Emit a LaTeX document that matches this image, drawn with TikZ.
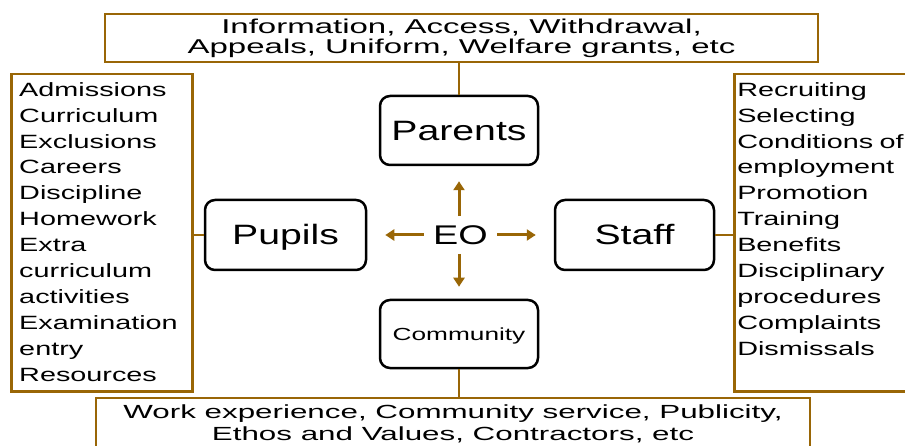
\documentclass[tikz,border=0pt]{standalone}
\usepackage{fontspec}
\setmainfont{Liberation Sans}[FakeStretch=1.5]
\newfontfamily\boxfont{Liberation Sans}[FakeStretch=1.4]
\newfontfamily\widefont{Liberation Sans}[FakeStretch=1.65]
\usepackage{tikz}
\usetikzlibrary{arrows.meta}
\definecolor{eobrown}{RGB}{153,102,6}
\tikzstyle{areabox} = [draw=eobrown,rectangle,line width=2.5pt,align=center,inner sep=0pt]
\tikzstyle{listbox} = [draw=eobrown,rectangle,line width=2.5pt,align=left,anchor=north west,
                       inner ysep=8pt,text height=14pt,text depth=287pt,
                       font=\fontsize{19.2pt}{25.9pt}\selectfont]
\tikzstyle{group} = [draw,rectangle,rounded corners=10pt,line width=2.5pt,inner sep=0pt,
                     text height=20pt,text depth=0pt,font=\boxfont\fontsize{28pt}{30pt}\selectfont]
\tikzstyle{line} = [draw=eobrown,line width=2.5pt]
\tikzstyle{connector} = [-{Triangle[length=9pt,width=11pt]},draw=eobrown,line width=3pt]

\begin{document}
\begin{tikzpicture}[x=1pt,y=-1pt]
    \useasboundingbox (0,0) rectangle (905,446);
    \clip (0,0) rectangle (905,446);

    % the four groups round EO
    \node[group,minimum width=158pt,minimum height=69pt] (parents) at (459,130.5) {Parents};
    \node[group,minimum width=161pt,minimum height=70pt] (pupils) at (285.5,235) {Pupils};
    \node[group,minimum width=159pt,minimum height=70pt] (staff) at (634.5,235) {Staff};
    \node[group,minimum width=158pt,minimum height=68pt,text height=13pt,
          font=\fontsize{17.5pt}{20pt}\selectfont] (community) at (459,334) {Community};
    \node[inner sep=9pt,font=\boxfont\fontsize{27pt}{30pt}\selectfont] (eo) at (460.5,235) {EO};

    % what each group covers
    \node[areabox,minimum width=713pt,minimum height=48pt,font=\widefont\fontsize{20pt}{20pt}\selectfont]
      (parentAreas) at (461.5,38) {Information, Access, Withdrawal,\\Appeals, Uniform, Welfare grants, etc};
    \node[areabox,minimum width=714pt,minimum height=52pt,font=\widefont\fontsize{19pt}{22pt}\selectfont]
      (communityAreas) at (453,424) {Work experience, Community service, Publicity,\\Ethos and Values, Contractors, etc};
    \node[listbox,inner xsep=8pt,text width=165pt] (pupilAreas) at (10,73) {Admissions\\Curriculum\\Exclusions\\Careers\\
      Discipline\\Homework\\Extra\\curriculum\\activities\\Examination\\entry\\Resources};
    \node[listbox,inner xsep=3pt,text width=180pt] (staffAreas) at (733,73) {Recruiting\\Selecting\\Conditions of\\employment\\
      Promotion\\Training\\Benefits\\Disciplinary\\procedures\\Complaints\\Dismissals};

    % now link the nodes
    \draw [line] (parents.north) -- (parents.north |- parentAreas.south);
    \draw [line] (community.south) -- (community.south |- communityAreas.north);
    \draw [line] (pupils.west) -- (pupils.west -| pupilAreas.east);
    \draw [line] (staff.east) -- (staff.east -| staffAreas.west);

    % arrows out of EO
    \draw [connector,shorten >=15pt] (eo.north -| parents) -- (parents.south);
    \draw [connector,shorten >=12pt] (eo.south -| community) -- (community.north);
    \draw [connector,shorten >=18pt] (eo.west) -- (pupils.east |- eo.west);
    \draw [connector,shorten >=18pt] (eo.east) -- (staff.west |- eo.east);
\end{tikzpicture}
\end{document}
